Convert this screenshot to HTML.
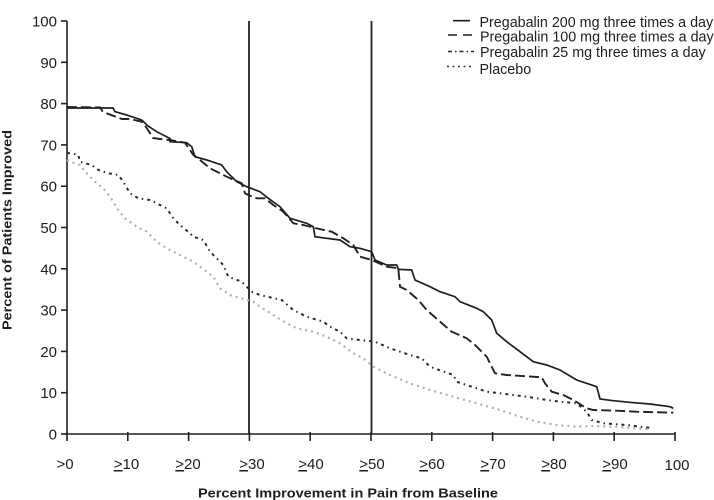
<!DOCTYPE html>
<html>
<head>
<meta charset="utf-8">
<style>
  html, body { margin: 0; padding: 0; background: #ffffff; }
  svg { display: block; }
  text { font-family: "Liberation Sans", Arial, sans-serif; fill: #1e1e1e; }
</style>
</head>
<body>
<svg width="714" height="500" viewBox="0 0 714 500" xmlns="http://www.w3.org/2000/svg">
  <rect width="714" height="500" fill="#ffffff"/>

  <!-- Axes -->
  <g stroke="#222" stroke-width="1.6" fill="none">
    <line x1="67" y1="21" x2="67" y2="434"/>
    <line x1="67" y1="434" x2="675" y2="434"/>
    <!-- y ticks -->
    <line x1="61" y1="434" x2="67" y2="434"/>
    <line x1="61" y1="392.7" x2="67" y2="392.7"/>
    <line x1="61" y1="351.4" x2="67" y2="351.4"/>
    <line x1="61" y1="310.1" x2="67" y2="310.1"/>
    <line x1="61" y1="268.8" x2="67" y2="268.8"/>
    <line x1="61" y1="227.5" x2="67" y2="227.5"/>
    <line x1="61" y1="186.2" x2="67" y2="186.2"/>
    <line x1="61" y1="144.9" x2="67" y2="144.9"/>
    <line x1="61" y1="103.6" x2="67" y2="103.6"/>
    <line x1="61" y1="62.3" x2="67" y2="62.3"/>
    <line x1="61" y1="21" x2="67" y2="21"/>
    <!-- x ticks -->
    <line x1="67" y1="432" x2="67" y2="441"/>
    <line x1="127.8" y1="432" x2="127.8" y2="441"/>
    <line x1="188.6" y1="432" x2="188.6" y2="441"/>
    <line x1="249.4" y1="432" x2="249.4" y2="441"/>
    <line x1="310.2" y1="432" x2="310.2" y2="441"/>
    <line x1="371" y1="432" x2="371" y2="441"/>
    <line x1="431.8" y1="432" x2="431.8" y2="441"/>
    <line x1="492.6" y1="432" x2="492.6" y2="441"/>
    <line x1="553.4" y1="432" x2="553.4" y2="441"/>
    <line x1="614.2" y1="432" x2="614.2" y2="441"/>
    <line x1="675" y1="432" x2="675" y2="441"/>
  </g>

  <!-- Reference vertical lines -->
  <g stroke="#222" stroke-width="1.8">
    <line x1="249" y1="21" x2="249" y2="434"/>
    <line x1="371.5" y1="21" x2="371.5" y2="434"/>
  </g>

  <!-- Y tick labels -->
  <g font-size="15" text-anchor="end">
    <text x="57" y="439.5">0</text>
    <text x="57" y="398.2">10</text>
    <text x="57" y="356.9">20</text>
    <text x="57" y="315.6">30</text>
    <text x="57" y="274.3">40</text>
    <text x="57" y="233">50</text>
    <text x="57" y="191.7">60</text>
    <text x="57" y="150.4">70</text>
    <text x="57" y="109.1">80</text>
    <text x="57" y="67.8">90</text>
    <text x="57" y="26.5">100</text>
  </g>

  <!-- X tick labels -->
  <g font-size="15" text-anchor="middle">
    <text x="65" y="469">&gt;0</text>
    <text x="126.5" y="469"><tspan text-decoration="underline">&gt;</tspan>10</text>
    <text x="188" y="469"><tspan text-decoration="underline">&gt;</tspan>20</text>
    <text x="252" y="469"><tspan text-decoration="underline">&gt;</tspan>30</text>
    <text x="311" y="469"><tspan text-decoration="underline">&gt;</tspan>40</text>
    <text x="372" y="469"><tspan text-decoration="underline">&gt;</tspan>50</text>
    <text x="432" y="469"><tspan text-decoration="underline">&gt;</tspan>60</text>
    <text x="493" y="469"><tspan text-decoration="underline">&gt;</tspan>70</text>
    <text x="554" y="469"><tspan text-decoration="underline">&gt;</tspan>80</text>
    <text x="615" y="469"><tspan text-decoration="underline">&gt;</tspan>90</text>
    <text x="677" y="470">100</text>
  </g>

  <!-- Axis titles -->
  <text x="348" y="497.5" font-size="12.5" font-weight="bold" text-anchor="middle" textLength="300" lengthAdjust="spacingAndGlyphs">Percent Improvement in Pain from Baseline</text>
  <text transform="translate(11.7,230) rotate(-90)" font-size="12.5" font-weight="bold" text-anchor="middle" textLength="200" lengthAdjust="spacingAndGlyphs">Percent of Patients Improved</text>

  <!-- Series -->
  <!-- Placebo (gray dotted) -->
  <polyline fill="none" stroke="#b0b0b0" stroke-width="2.2" stroke-dasharray="2,4"
    points="67,160 70,161.7 80,165 85,171.7 96.7,183.3 103.3,188.3 110,196.7 118.3,210 125,218.3 136.7,226.7 146.7,231.7 156.7,241.7 166.7,248.3 180,255 193.3,261.7 206.7,271.7 213.3,276.7 220,288.3 230,295 246.7,300 253.3,301.7 260,306.7 273.3,315 286.7,323.3 296.7,328.3 313.3,331.7 326.7,336.7 340,343.3 353.3,353.3 363.3,358.3 373.3,366.7 390,375 410,383.3 430,390 453.3,396.7 476.7,403.3 500,410 520,416.7 536.7,421.7 556.7,425 576.7,426.7 593.3,426 613.3,426.7 650,429.3"/>

  <!-- 25 mg (dark dash-dot) -->
  <polyline fill="none" stroke="#2a2a2a" stroke-width="2" stroke-dasharray="3,4,1.5,4"
    points="67,153 71.7,153.3 78.3,155 80,161.7 91.7,165 98.3,170 108.3,173.3 118.3,175 123.3,181.7 130,193.3 138.3,198.3 150,200 160,205 166.7,208.3 173.3,218.3 180,225 190,233.3 193.3,236.7 203.3,240 210,251.7 216.7,258.3 223.3,265 228.3,276.7 241.7,281.7 251.7,291.7 260,295 270,297.3 281.7,300 293.3,310 306.7,316.7 323.3,321.7 330,326.7 340,331.7 346.7,338.3 360,340 375,341.7 390,348.3 410,355 421.7,358.3 430,366.7 453.3,375 456.7,381.7 486.7,391.7 500,393.3 526.7,396.7 546.7,400 560,401.7 576.7,403.3 586.7,411.7 591.7,420 603.3,423.3 626.7,425 653.3,428.3"/>

  <!-- 100 mg (dashed) -->
  <polyline fill="none" stroke="#222" stroke-width="1.9" stroke-dasharray="10,4"
    points="67,107 100,107.5 103,112 122,119 130,119 141.7,121.7 146.7,128 153,138 160,139 170,140 185,142.7 193.3,155 200,160 210,168.3 226.7,176.7 241.7,183.3 245,193.3 248.3,195 256.7,198.3 265,198.3 273.3,205 283.3,211.7 293.3,223.3 303.3,225 315,228 331.7,231.7 343.3,238.3 353.3,245 360,256.7 371.7,260 386.7,266.7 398.3,268.3 400,286.7 406.7,290 418.3,300 426.7,310 440,321.7 451.7,331.7 466.7,338.3 475,345 486.7,356.7 495,373.3 506.7,375 541.7,377.3 545,383.3 551.7,391.7 563.3,395 573.3,400 586.7,408.3 593.3,410 616.7,410.7 636.7,411.7 673.3,412.7"/>

  <!-- 200 mg (solid) -->
  <polyline fill="none" stroke="#1e1e1e" stroke-width="1.7"
    points="67,108 113,108 115,111.7 126.7,115 141.7,120 148,126 156.7,131.7 170,138.5 170,141.7 186.7,142.7 191.7,146.7 195,156.7 206.7,160 221.7,165 226.7,171.7 236.7,181.7 246.7,186.7 260,191.7 268.3,198.3 280,206.7 290,218.3 306.7,223.3 313.3,226.7 315,236.7 326.7,238.3 340,240 350,246.7 360,248.3 371.7,251.7 375,260 386.7,265 396.7,265 398.3,269.3 411.7,270 415,280 430,286.7 440,291.7 455,296.7 460,301.7 476.7,308.3 483.3,311.7 491.7,320 496.7,333.3 506.7,341.7 520,351.7 533.3,361.7 546.7,365 560,370 576.7,380 596.7,386.7 600,399 613.3,400.7 633.3,402.7 650,404 670,406.7 673.3,408.3"/>

  <!-- Legend -->
  <g fill="none">
    <line x1="453" y1="20.7" x2="470" y2="20.7" stroke="#1e1e1e" stroke-width="1.6"/>
    <line x1="448" y1="35" x2="474" y2="35" stroke="#1e1e1e" stroke-width="1.6" stroke-dasharray="9,6"/>
    <line x1="448" y1="51.5" x2="474" y2="51.5" stroke="#2a2a2a" stroke-width="1.5" stroke-dasharray="4,3,1.5,3"/>
    <line x1="447" y1="66.5" x2="474" y2="66.5" stroke="#333" stroke-width="1.4" stroke-dasharray="2,3.5"/>
  </g>
  <g font-size="14.3">
    <text x="479.5" y="27">Pregabalin 200 mg three times a day</text>
    <text x="480" y="41.5">Pregabalin 100 mg three times a day</text>
    <text x="480" y="57">Pregabalin 25 mg three times a day</text>
    <text x="479.5" y="74">Placebo</text>
  </g>
</svg>
</body>
</html>
